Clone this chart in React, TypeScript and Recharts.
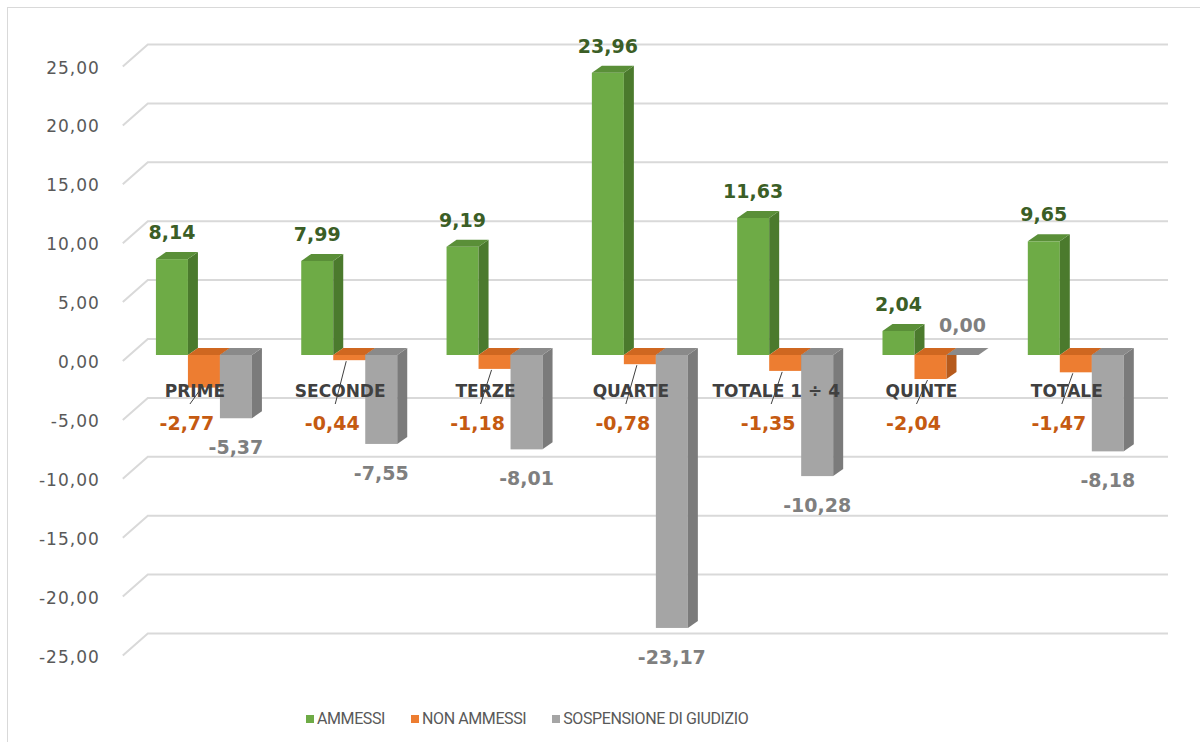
import { Bar, BarChart, CartesianGrid, LabelList, Legend, XAxis, YAxis } from 'recharts'

const categories = ['PRIME', 'SECONDE', 'TERZE', 'QUARTE', 'TOTALE 1 ÷ 4', 'QUINTE', 'TOTALE']
const ammessi = [8.14, 7.99, 9.19, 23.96, 11.63, 2.04, 9.65]
const nonAmmessi = [-2.77, -0.44, -1.18, -0.78, -1.35, -2.04, -1.47]
const sospensione = [-5.37, -7.55, -8.01, -23.17, -10.28, 0, -8.18]
const yTicks = [-25, -20, -15, -10, -5, 0, 5, 10, 15, 20, 25]

const data = categories.map((name, i) => ({
  name,
  ammessi: ammessi[i],
  nonAmmessi: nonAmmessi[i],
  sospensione: sospensione[i],
}))

// facce del "3D" finto: fronte, fianco, sopra
const GREEN = { front: '#6EAB46', side: '#4B7A2D', top: '#5A8F38' }
const ORANGE = { front: '#ED7D31', side: '#B65A1C', top: '#CF6720' }
const GRAY = { front: '#A5A5A5', side: '#7B7B7B', top: '#8A8A8A' }
const DX = 10
const DY = 7

const fmt = (v: number) => v.toFixed(2).replace('.', ',')

function box(p: any) {
  const b = p.viewBox && p.viewBox.width != null ? p.viewBox : p
  const x = Number(b.x)
  const w = Number(b.width)
  const y = Number(b.y)
  const h = Number(b.height)
  return { x, w, top: Math.min(y, y + h), bottom: Math.max(y, y + h) }
}

const bar3d = (c: { front: string; side: string; top: string }) => (p: any) => {
  const { x, w, top, bottom } = box(p)
  if (!isFinite(x) || !isFinite(top)) return <g />
  return (
    <g>
      <rect x={x} y={top} width={w} height={bottom - top} fill={c.front} />
      <polygon
        points={`${x + w},${top} ${x + w + DX},${top - DY} ${x + w + DX},${bottom - DY} ${x + w},${bottom}`}
        fill={c.side}
      />
      <polygon points={`${x},${top} ${x + DX},${top - DY} ${x + w + DX},${top - DY} ${x + w},${top}`} fill={c.top} />
    </g>
  )
}

const labelFont = { fontFamily: 'DejaVu Sans', fontSize: 19, fontWeight: 700 }

function greenLabel(p: any) {
  const { x, w, top } = box(p)
  return (
    <text x={x + w / 2} y={top - 27} textAnchor="middle" dominantBaseline="central" fill="#3B5E26" {...labelFont}>
      {fmt(Number(p.value))}
    </text>
  )
}

function orangeLabel(p: any) {
  const { x, w, top, bottom } = box(p)
  const cx = x + w / 2
  const lx = cx - 17
  const ly = top + 68
  const showLine = ly - 19 - bottom > 6
  return (
    <g>
      {showLine && <line x1={cx - 3} y1={bottom + 1} x2={lx + 3} y2={ly - 19} stroke="#404040" strokeWidth={1} />}
      <text x={lx} y={ly} textAnchor="middle" dominantBaseline="central" fill="#C55A11" {...labelFont}>
        {fmt(Number(p.value))}
      </text>
    </g>
  )
}

function grayLabel(p: any) {
  const { x, w, top, bottom } = box(p)
  const v = Number(p.value)
  const ly = v < 0 ? bottom + 29 : top - 30
  return (
    <text x={x + w / 2} y={ly} textAnchor="middle" dominantBaseline="central" fill="#7F7F7F" {...labelFont}>
      {fmt(v)}
    </text>
  )
}

// etichette categoria sull'asse dello zero (come Excel), sopra le barre
function categoryLabel(p: any) {
  const { x, w, top } = box(p)
  return (
    <text
      x={x - w / 2 - 9}
      y={top + 36}
      textAnchor="middle"
      dominantBaseline="central"
      fill="#404040"
      fontFamily="DejaVu Sans"
      fontSize={17}
      fontWeight={700}
    >
      {p.value}
    </text>
  )
}

function gridLine(p: any) {
  const { x1, x2, y1 } = p
  return (
    <path
      key={p.key}
      d={`M${x1 - 9},${y1 + 6} L${x1 + 16},${y1 - 16} L${x2 + 19},${y1 - 16}`}
      stroke="#D9D9D9"
      strokeWidth={2}
      fill="none"
    />
  )
}

function yTick(p: any) {
  return (
    <text
      x={p.x}
      y={p.y + 7}
      textAnchor="end"
      dominantBaseline="central"
      fill="#595959"
      fontFamily="DejaVu Sans"
      fontSize={17}
      letterSpacing={1}
    >
      {fmt(Number(p.payload.value))}
    </text>
  )
}

function legendContent(props: any) {
  const items = props.payload || []
  return (
    <div style={{ display: 'flex', gap: 26, fontFamily: 'Roboto', fontSize: 16, letterSpacing: -0.4, color: '#595959' }}>
      {items.map((e: any) => (
        <span key={e.value} style={{ display: 'flex', alignItems: 'center' }}>
          <span style={{ width: 8, height: 8, background: e.color, marginRight: 3, display: 'inline-block' }} />
          {e.value}
        </span>
      ))}
    </div>
  )
}

export default function App() {
  return (
    <div style={{ position: 'absolute', left: 0, top: 0, width: 1200, height: 742, overflow: 'hidden', background: '#fff' }}>
      <div
        style={{
          position: 'absolute',
          left: 7,
          top: 7,
          width: 1220,
          height: 800,
          border: '1px solid #D9D9D9',
          boxSizing: 'border-box',
        }}
      />
      <div style={{ position: 'absolute', left: 0, top: 0 }}>
        <BarChart
          width={1200}
          height={742}
          data={data}
          margin={{ top: 60.5, right: 51, bottom: 92.5, left: 41.8 }}
          barCategoryGap="16.6%"
          barGap={0}
        >
          <CartesianGrid vertical={false} horizontal={gridLine} />
          <XAxis dataKey="name" hide />
          <YAxis
            width={90}
            domain={[-25, 25]}
            ticks={yTicks}
            axisLine={false}
            tickLine={false}
            tickSize={0}
            tickMargin={32}
            tick={yTick}
          />
          <Legend
            layout="horizontal"
            align="center"
            verticalAlign="middle"
            wrapperStyle={{ left: 306, top: 709, width: 520 }}
            content={legendContent}
          />
          <Bar dataKey="ammessi" name="AMMESSI" fill={GREEN.front} shape={bar3d(GREEN)} isAnimationActive={false}>
            <LabelList dataKey="ammessi" content={greenLabel} />
          </Bar>
          <Bar dataKey="nonAmmessi" name="NON AMMESSI" fill={ORANGE.front} shape={bar3d(ORANGE)} isAnimationActive={false}>
            <LabelList dataKey="nonAmmessi" content={orangeLabel} />
          </Bar>
          <Bar dataKey="sospensione" name="SOSPENSIONE DI GIUDIZIO" fill={GRAY.front} shape={bar3d(GRAY)} isAnimationActive={false}>
            <LabelList dataKey="sospensione" content={grayLabel} />
            <LabelList dataKey="name" content={categoryLabel} />
          </Bar>
        </BarChart>
      </div>
    </div>
  )
}
